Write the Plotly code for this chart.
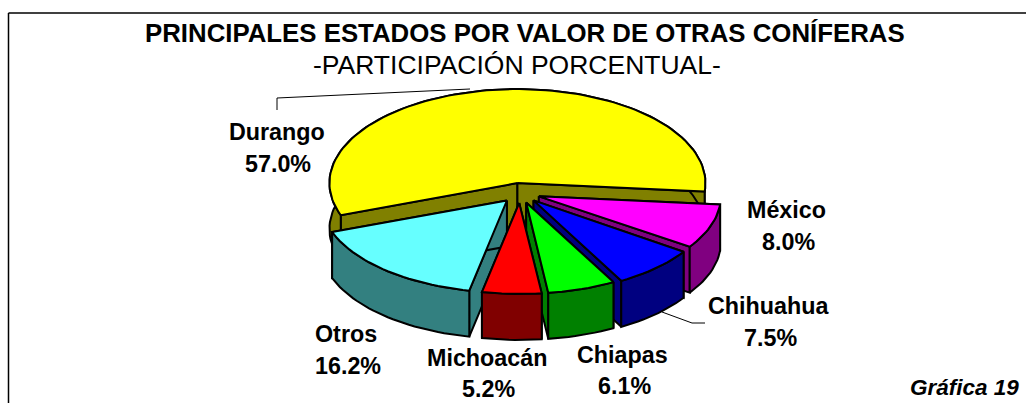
import math
import plotly.graph_objects as go

# data
states = ["Durango", "México", "Chihuahua", "Chiapas", "Michoacán", "Otros"]
shares = [57.0, 8.0, 7.5, 6.1, 5.2, 16.2]
top_colors = ["#FFFF00", "#FF00FF", "#0000FF", "#00FF00", "#FF0000", "#66FFFF"]
side_colors = ["#808000", "#800080", "#000080", "#008000", "#800000", "#338080"]
paint_order = [0, 1, 2, 3, 5, 4]
title_text = "PRINCIPALES ESTADOS POR VALOR DE OTRAS CONÍFERAS"
subtitle_text = "-PARTICIPACIÓN PORCENTUAL-"
caption_text = "Gráfica 19"

# pie projection, in axis units (slight per-slice radii mimic the 3D perspective)
CX, CY = 520, 193
RADII_X = [188, 182, 181, 180, 184, 186]
RADII_Y = [94, 90, 92, 91, 91, 92]
EXPLODE = 20
DEPTH = 46
START = 200.0

# label centres (name line, value line) in axis units
label_pos = {
    "Durango": ((277, 132), (278, 164)), "México": ((786, 210), (788, 242)),
    "Chihuahua": ((768, 306), (770, 338)), "Chiapas": ((622, 355), (624, 386)),
    "Michoacán": ((487, 358), (488, 389)), "Otros": ((346, 334), (348, 366)),
}

fig = go.Figure()


def poly(xs, ys, color):
    fig.add_trace(go.Scatter(
        x=xs, y=ys, mode="lines", fill="toself", fillcolor=color,
        line=dict(color="black", width=2), hoverinfo="skip", showlegend=False))


angles = []
a = START
for v in shares:
    angles.append((a, a - v * 3.6))
    a -= v * 3.6

for i in paint_order:
    a0, a1 = angles[i]
    rx, ry = RADII_X[i], RADII_Y[i]
    mid = math.radians((a0 + a1) / 2)
    tx = CX + EXPLODE * math.cos(mid)
    ty = CY - EXPLODE * 0.5 * math.sin(mid)
    n = max(4, int(abs(a1 - a0) / 2))
    arc = [math.radians(a0 + (a1 - a0) * k / n) for k in range(n + 1)]
    ax = [tx + rx * math.cos(t) for t in arc]
    ay = [ty - ry * math.sin(t) for t in arc]
    # the two cut faces
    for ex, ey in ((ax[0], ay[0]), (ax[-1], ay[-1])):
        poly([tx, ex, ex, tx, tx], [ty, ey, ey + DEPTH, ty + DEPTH, ty], side_colors[i])
    # outer wall
    poly(ax + ax[::-1] + ax[:1], ay + [y + DEPTH for y in ay[::-1]] + ay[:1], side_colors[i])
    # top
    poly([tx] + ax + [tx], [ty] + ay + [ty], top_colors[i])

# leader lines
for xs, ys in (([277, 277, 470], [110, 98, 89]), ([662, 692, 705], [312, 323, 323])):
    fig.add_trace(go.Scatter(x=xs, y=ys, mode="lines", line=dict(color="black", width=1),
                             hoverinfo="skip", showlegend=False))

anns = []
def text(x, y, s, size, bold=True, italic=False):
    s2 = f"<b>{s}</b>" if bold else s
    if italic:
        s2 = f"<i>{s2}</i>"
    anns.append(dict(x=x, y=y, text=s2, showarrow=False, xref="x", yref="y",
                     font=dict(family="Liberation Sans", size=size, color="black"),
                     align="center", xanchor="center", yanchor="middle"))

text(525, 33, title_text, 25.8)
text(517, 65, subtitle_text, 26.5, bold=False)
for name, v in zip(states, shares):
    (x, y), (x2, y2) = label_pos[name]
    text(x, y, name, 23.3)
    text(x2, y2, f"{v:.1f}%", 23.3)
text(964, 387, caption_text, 22.5, italic=True)

fig.update_layout(
    width=1026, height=403, margin=dict(l=0, r=0, t=0, b=0),
    paper_bgcolor="white", plot_bgcolor="white", annotations=anns,
    xaxis=dict(range=[0, 1026], visible=False, fixedrange=True),
    yaxis=dict(range=[403, 0], visible=False, fixedrange=True),
    shapes=[dict(type="line", x0=8.5, y0=403, x1=8.5, y1=13, line=dict(color="black", width=1.5), layer="below"),
            dict(type="line", x0=8.5, y0=13, x1=1026, y1=13, line=dict(color="black", width=1.5), layer="below")],
)
fig.write_html("out.html", config={"displayModeBar": False},
               post_script="document.body.style.margin='0';document.body.style.overflow='hidden';")
